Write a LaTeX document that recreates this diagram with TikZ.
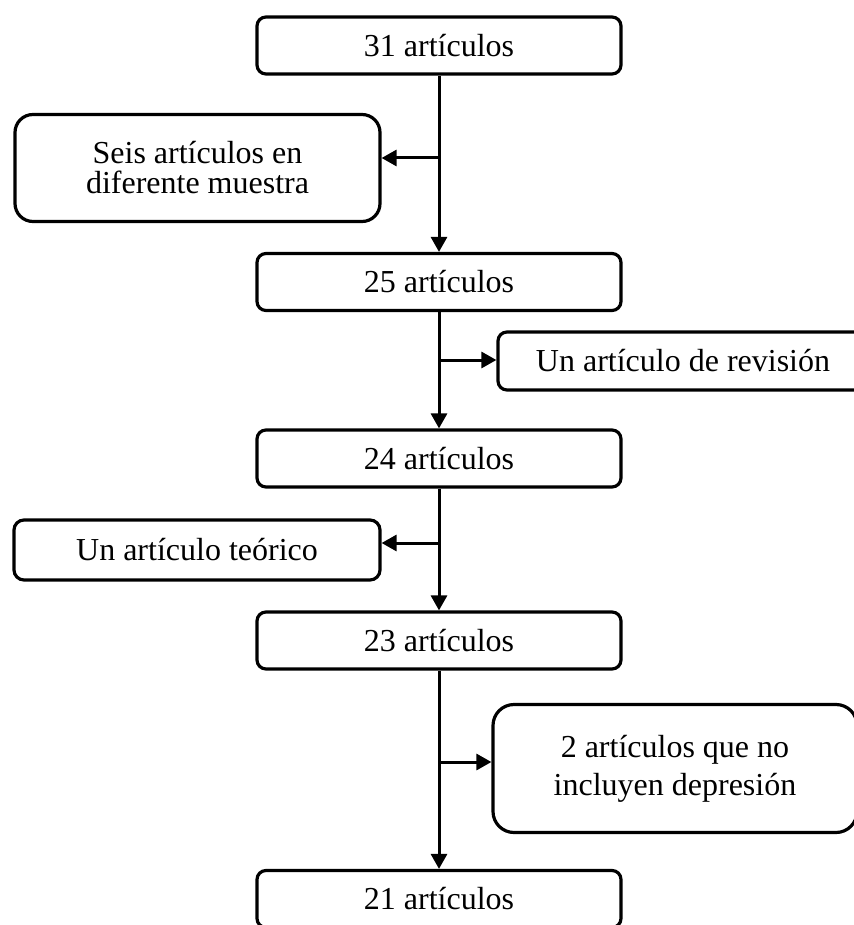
\documentclass[tikz,border=0pt]{standalone}
\usepackage{fontspec}
\setmainfont{Liberation Serif}
\usetikzlibrary{arrows.meta}
\begin{document}
\begin{tikzpicture}[x=0.5pt,y=-0.5pt,
  box/.style={draw,line width=1.6pt,inner sep=0pt,align=center,font=\fontsize{16}{19}\selectfont},
  main/.style={box,rounded corners=4.5pt,minimum width=182pt,minimum height=28.5pt},
  link/.style={line width=1.5pt,-{Triangle[length=7.5pt,width=8pt]}}]
\useasboundingbox (0,0) rectangle (853,925);
% main column
\node[main] (a31) at (439,45.5) {31 artículos};
\node[main] (a25) at (439,282) {25 artículos};
\node[main] (a24) at (439,458.5) {24 artículos};
\node[main] (a23) at (439,640.5) {23 artículos};
\node[main] (a21) at (439,899) {21 artículos};
% excluded
\node[box,rounded corners=9pt,minimum width=182.5pt,minimum height=53.5pt,font=\fontsize{16}{15}\selectfont] (seis) at (197.5,168) {Seis artículos en\\diferente muestra};
\node[box,rounded corners=4.5pt,minimum width=185pt,minimum height=29pt] (rev) at (683,361) {Un artículo de revisión};
\node[box,rounded corners=5pt,minimum width=183pt,minimum height=30pt] (teo) at (197,550) {Un artículo teórico};
\node[box,rounded corners=10.5pt,minimum width=182pt,minimum height=64pt] (nodep) at (675,768.5) {2 artículos que no\\incluyen depresión};
% arrows
\draw[link] (a31) -- (a25);
\draw[link] (a25) -- (a24);
\draw[link] (a24) -- (a23);
\draw[link] (a23) -- (a21);
\coordinate (j1) at (439,158);
\coordinate (j2) at (439,360);
\coordinate (j3) at (439,543);
\coordinate (j4) at (439,762);
\draw[link] (j1) -- (j1 -| seis.east);
\draw[link] (j2) -- (j2 -| rev.west);
\draw[link] (j3) -- (j3 -| teo.east);
\draw[link] (j4) -- (j4 -| nodep.west);
\end{tikzpicture}
\end{document}
